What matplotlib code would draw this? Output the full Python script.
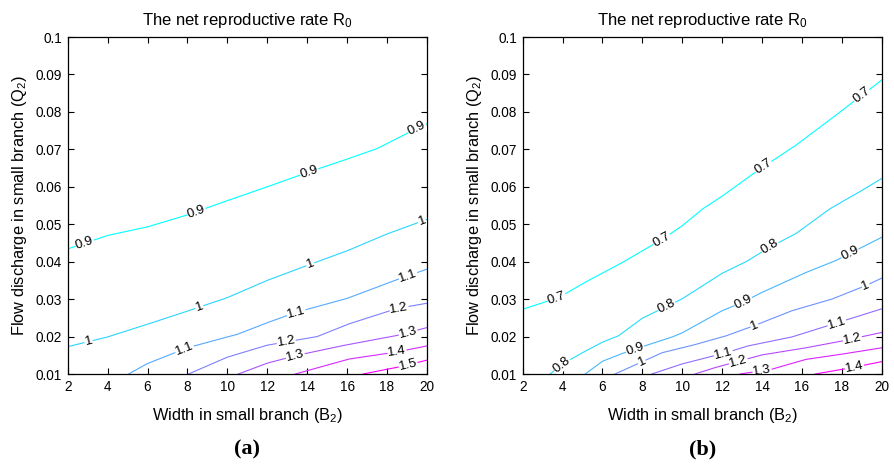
import numpy as np
import matplotlib
matplotlib.use("Agg")
import matplotlib.pyplot as plt

plt.rcParams['font.family'] = ['Liberation Sans', 'DejaVu Sans']
plt.rcParams['mathtext.fontset'] = 'custom'
plt.rcParams['mathtext.rm'] = 'Liberation Sans'
plt.rcParams['mathtext.it'] = 'Liberation Sans'

# contour lines: (B2, Q2) points per R0 level
levels_a = [0.9, 1.0, 1.1, 1.2, 1.3, 1.4, 1.5]
lines_a_x = [
    [2, 4, 6, 8, 10, 12, 14, 16, 17.5, 19.2, 20],
    [2, 4, 6, 8, 10, 12, 14, 16, 18, 20],
    [5.05, 6, 8, 10, 10.5, 12, 13.4, 16, 18.6, 20],
    [8.05, 10, 12, 14.5, 16.1, 18.5, 20],
    [10.55, 12, 13.5, 15.8, 18.5, 20],
    [13.4, 16.1, 18.5, 20],
    [16.8, 18.6, 20],
]
lines_a_y = [
    [0.0434, 0.0470, 0.0493, 0.0525, 0.0563, 0.0600, 0.0638, 0.0674, 0.0702, 0.0748, 0.0768],
    [0.0173, 0.0199, 0.0233, 0.0268, 0.0304, 0.0350, 0.0390, 0.0429, 0.0474, 0.0513],
    [0.0100, 0.0128, 0.0170, 0.0199, 0.0206, 0.0237, 0.0264, 0.0302, 0.0354, 0.0380],
    [0.0100, 0.0145, 0.0177, 0.0200, 0.0234, 0.0275, 0.0289],
    [0.0100, 0.0129, 0.0150, 0.0176, 0.0203, 0.0224],
    [0.0100, 0.0140, 0.0159, 0.0175],
    [0.0100, 0.0119, 0.0137],
]
labels_a_x = [
    [2.85, 8.45, 14.1, 19.5],
    [3.05, 8.6, 14.15, 19.75],
    [7.85, 13.45, 19.05],
    [12.95, 18.6],
    [13.4, 19.05],
    [18.5],
    [19.05],
]

levels_b = [0.7, 0.8, 0.9, 1.0, 1.1, 1.2, 1.3, 1.4]
lines_b_x = [
    [2, 3.8, 5.1, 7, 9, 10, 11, 12, 13.8, 15.7, 17.7, 18.8, 20],
    [3.37, 4, 5, 6, 6.8, 8, 10, 12, 13.2, 14.4, 15.7, 17.4, 19, 20],
    [5.13, 6, 7, 8, 9.5, 10, 12, 13, 14, 16.2, 17.7, 20],
    [6.63, 8, 9, 10.6, 12.2, 13.6, 15.5, 17.5, 19.2, 20],
    [8.47, 10, 12.2, 13.3, 15.5, 17.3, 20],
    [10.64, 11.64, 14, 16.2, 18, 20],
    [12.9, 14.5, 16.2, 18, 20],
    [16.66, 18.5, 20],
]
lines_b_y = [
    [0.0273, 0.0304, 0.0344, 0.0398, 0.0460, 0.0496, 0.0540, 0.0575, 0.0644, 0.0711, 0.0791, 0.0836, 0.0885],
    [0.0100, 0.0127, 0.0157, 0.0185, 0.0202, 0.0249, 0.0301, 0.0369, 0.0400, 0.0439, 0.0475, 0.0541, 0.0590, 0.0622],
    [0.0100, 0.0134, 0.0155, 0.0173, 0.0199, 0.0210, 0.0269, 0.0291, 0.0318, 0.0371, 0.0403, 0.0465],
    [0.0100, 0.0133, 0.0157, 0.0178, 0.0202, 0.0229, 0.0269, 0.0300, 0.0336, 0.0356],
    [0.0100, 0.0127, 0.0157, 0.0175, 0.0199, 0.0229, 0.0274],
    [0.0100, 0.0117, 0.0151, 0.0170, 0.0188, 0.0211],
    [0.0100, 0.0113, 0.0139, 0.0153, 0.0170],
    [0.0100, 0.0117, 0.0133],
]
labels_b_x = [
    [3.7, 8.97, 14.07, 19.0],
    [3.96, 9.22, 14.4],
    [7.63, 13.06, 18.41],
    [7.97, 13.62, 19.2],
    [12.06, 17.75],
    [12.81, 18.53],
    [14.0],
    [18.63],
]

x_ticks = [2, 4, 6, 8, 10, 12, 14, 16, 18, 20]
y_ticks = [0.01, 0.02, 0.03, 0.04, 0.05, 0.06, 0.07, 0.08, 0.09, 0.1]

fig = plt.figure(figsize=(8.94, 4.66), dpi=100)
ax_a = fig.add_axes([0.0757, 0.1974, 0.4019, 0.7232])
ax_b = fig.add_axes([0.5847, 0.1974, 0.4015, 0.7232])


def draw_panel(ax, levels, xs, ys, label_xs, tag):
    lo, hi = levels[0], levels[-1]
    for lev, x, y, lx in zip(levels, xs, ys, label_xs):
        col = plt.cm.cool((lev - lo) / (hi - lo))
        ax.plot(x, y, color=col, lw=0.8)
        x = np.array(x)
        y = np.array(y)
        for px in lx:
            py = np.interp(px, x, y)
            i = min(max(np.searchsorted(x, px), 1), len(x) - 1)
            ang = np.degrees(np.arctan2(y[i] - y[i - 1], x[i] - x[i - 1]))
            ax.text(px, py, '%g' % lev, fontsize=9.5, ha='center', va='center',
                    rotation=ang, rotation_mode='anchor',
                    transform_rotates_text=True, clip_on=True,
                    bbox=dict(facecolor='white', edgecolor='none', pad=0.3))
    ax.set_xlim(2, 20)
    ax.set_ylim(0.01, 0.1)
    ax.set_xticks(x_ticks)
    ax.set_yticks(y_ticks)
    ax.set_yticklabels(['%g' % v for v in y_ticks])
    ax.tick_params(direction='in', top=True, right=True, length=4,
                   labelsize=9.8, width=0.8, pad=4)
    for s in ax.spines.values():
        s.set_linewidth(0.9)
    ax.set_title(r'The net reproductive rate R$_{0}$', fontsize=12, pad=9)
    ax.set_xlabel(r'Width in small branch (B$_{2}$)', fontsize=11.8, labelpad=9)
    ax.set_ylabel(r'Flow discharge in small branch (Q$_{2}$)', fontsize=11.8,
                  labelpad=5)
    ax.text(0.5, -0.225, tag, transform=ax.transAxes, ha='center', va='center',
            fontsize=16, fontweight='bold', family='Liberation Serif')


draw_panel(ax_a, levels_a, lines_a_x, lines_a_y, labels_a_x, '(a)')
draw_panel(ax_b, levels_b, lines_b_x, lines_b_y, labels_b_x, '(b)')

fig.savefig('out.png', dpi=100)
